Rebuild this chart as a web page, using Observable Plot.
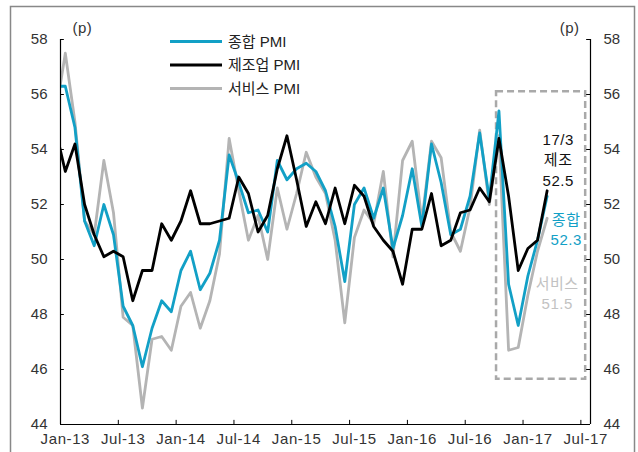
<!DOCTYPE html>
<html><head><meta charset="utf-8">
<script src="https://cdn.jsdelivr.net/npm/d3@7"></script>
<script src="https://cdn.jsdelivr.net/npm/@observablehq/plot@0.6"></script>
<style>
body{margin:0;background:#fff;}
#chart{width:638px;height:452px;}
g[aria-label="x-axis tick label"] text{letter-spacing:0.6px;}
g[aria-label="text"] text{letter-spacing:0.5px;}
</style></head><body><div id="chart"></div>
<script>
const months = ["2012-12",
 "2013-01","2013-02","2013-03","2013-04","2013-05","2013-06","2013-07","2013-08","2013-09","2013-10","2013-11","2013-12",
 "2014-01","2014-02","2014-03","2014-04","2014-05","2014-06","2014-07","2014-08","2014-09","2014-10","2014-11","2014-12",
 "2015-01","2015-02","2015-03","2015-04","2015-05","2015-06","2015-07","2015-08","2015-09","2015-10","2015-11","2015-12",
 "2016-01","2016-02","2016-03","2016-04","2016-05","2016-06","2016-07","2016-08","2016-09","2016-10","2016-11","2016-12",
 "2017-01","2017-02","2017-03"];
const composite = [56.3,
 56.3,54.8,51.4,50.5,52.0,50.9,48.3,47.6,46.1,47.5,48.5,48.1,
 49.6,50.3,48.9,49.5,50.7,53.8,52.8,51.7,51.8,51.0,53.6,52.9,
 53.3,53.5,53.2,52.5,51.2,49.2,52.0,52.6,51.5,52.6,50.4,51.6,
 53.3,51.2,54.2,52.8,50.9,51.1,52.3,54.6,52.2,55.4,49.1,47.6,
 49.4,50.7,52.3];
const manufacturing = [54.7,
 53.2,54.2,52.0,50.9,50.1,50.3,50.1,48.5,49.6,49.6,51.3,50.7,
 51.4,52.5,51.3,51.3,51.4,51.5,53.0,52.4,51.0,51.6,53.3,54.5,
 52.9,51.2,52.1,51.3,52.6,51.3,52.7,52.3,51.2,50.7,50.3,49.1,
 51.1,51.1,52.4,50.5,50.7,51.7,51.8,52.6,52.1,54.4,52.3,49.6,
 50.4,50.7,52.5];
const services = [55.3,
 57.5,55.0,51.4,50.9,53.6,51.7,47.9,47.6,44.6,47.1,47.2,46.7,
 48.3,48.8,47.5,48.5,50.2,54.4,52.5,50.7,51.6,50.0,52.6,51.1,
 52.4,53.9,53.0,52.4,50.7,47.7,50.8,51.8,51.3,53.2,50.1,53.6,
 54.3,51.4,54.3,53.7,51.0,50.3,51.9,54.7,52.0,54.5,46.7,46.8,
 48.7,50.3,51.5];
const xTickLabels = ["Jan-13","Jul-13","Jan-14","Jul-14","Jan-15","Jul-15","Jan-16","Jul-16","Jan-17","Jul-17"];
const yTicks = [44,46,48,50,52,54,56,58];
const seriesNames = ["종합 PMI","제조업 PMI","서비스 PMI"];
const seriesColors = ["#12a0c6","#000000","#b4b4b4"];
const shortNames = ["종합","제조","서비스"];
const labelColors = ["#12a0c6","#111111","#c2c2c2"];
const boxMonths = [45.25, 54.5];
const boxValues = [45.65, 56.1];
const unitLabel = "(p)";

const toT = s => { const [y, m] = s.split("-").map(Number); return (y - 2013) * 12 + (m - 1) + 0.5; };
const seriesValues = [composite, manufacturing, services];
const rows = seriesValues.map((vals, j) => months.map((m, i) => ({t: toT(m), v: vals[i], s: seriesNames[j]})));
const tickPos = xTickLabels.map((_, i) => i * 6);
const last = rows.map(r => r[r.length - 1]);
const lastMonth = months[months.length - 1];
const lastTag = lastMonth.slice(2, 4) + "/" + (+lastMonth.slice(5));

const font = "'Liberation Sans', Arial, 'Noto Sans CJK KR', sans-serif";
const plot = Plot.plot({
  width: 638, height: 452,
  marginLeft: 60, marginRight: 48, marginTop: 39, marginBottom: 28,
  style: {fontSize: "15px", fontFamily: font, color: "#333", background: "#fff"},
  x: {domain: [0, 55], axis: null},
  y: {domain: [44, 58], axis: null},
  marks: [
    Plot.rect([0], {x1: () => boxMonths[0], x2: () => boxMonths[1], y1: () => boxValues[0], y2: () => boxValues[1],
      fill: "none", stroke: "#a9a9a9", strokeWidth: 2.5, strokeDasharray: "7,4"}),
    Plot.lineY(rows[2], {x: "t", y: "v", stroke: seriesColors[2], strokeWidth: 2.8, clip: true}),
    Plot.lineY(rows[0], {x: "t", y: "v", stroke: seriesColors[0], strokeWidth: 2.8, clip: true}),
    Plot.lineY(rows[1], {x: "t", y: "v", stroke: seriesColors[1], strokeWidth: 2.8, clip: true}),
    Plot.ruleX([0, 55], {y1: 44, y2: 58, stroke: "#000", strokeWidth: 1.2}),
    Plot.ruleY([44], {x1: 0, x2: 55, stroke: "#000", strokeWidth: 1.2}),
    Plot.ruleY(yTicks, {x1: 0, x2: 0.4, stroke: "#000"}),
    Plot.ruleY(yTicks, {x1: 54.6, x2: 55, stroke: "#000"}),
    Plot.ruleX(tickPos, {y1: 44, y2: 44.15, stroke: "#000"}),
    Plot.axisY({anchor: "left", ticks: yTicks, tickSize: 0, tickPadding: 13, tickFormat: d => d, fill: "#333", fontSize: 15, label: null}),
    Plot.axisY({anchor: "right", ticks: yTicks, tickSize: 0, tickPadding: 13, tickFormat: d => d, fill: "#333", fontSize: 15, label: null}),
    Plot.axisX({anchor: "bottom", ticks: tickPos.map(t => t + 0.5), tickSize: 0, tickPadding: 9,
      tickFormat: (d, i) => xTickLabels[i], fill: "#333", fontSize: 15, label: null}),
    Plot.text([unitLabel], {frameAnchor: "top-left", text: d => d, dx: 12, dy: -17, fill: "#333", fontSize: 15}),
    Plot.text([unitLabel], {frameAnchor: "top-right", text: d => d, dx: -11, dy: -17, fill: "#333", fontSize: 15}),
    Plot.text([last[1]], {x: "t", y: "v", text: d => lastTag + "\n" + shortNames[1] + "\n" + d.v.toFixed(1),
      dx: 11, dy: -32, lineHeight: 1.38, fill: labelColors[1], fontSize: 15}),
    Plot.text([last[0]], {x: "t", y: "v", text: d => shortNames[0] + "\n" + d.v.toFixed(1),
      dx: 19, dy: 32, lineHeight: 1.35, fill: labelColors[0], fontSize: 15}),
    Plot.text([last[2]], {x: "t", y: "v", text: d => shortNames[2] + "\n" + d.v.toFixed(1),
      dx: 10, dy: 74, lineHeight: 1.35, fill: labelColors[2], fontSize: 15})
  ]
});
document.getElementById("chart").appendChild(plot);

const svg = d3.select(plot);
// outer frame
svg.append("rect").attr("x", 10.5).attr("y", 6.5).attr("width", 624).attr("height", 460)
  .attr("fill", "none").attr("stroke", "#888").attr("stroke-width", 1.5);
// legend
const lg = svg.append("g").attr("font-family", font).attr("font-size", 15).attr("text-anchor", "start");
seriesNames.forEach((name, i) => {
  const y = 41.5 + i * 23.5;
  lg.append("line").attr("x1", 170).attr("x2", 222).attr("y1", y).attr("y2", y)
    .attr("stroke", seriesColors[i]).attr("stroke-width", 3);
  lg.append("text").attr("x", 228).attr("y", y).attr("dy", "0.35em").attr("fill", "#222").text(name);
});
</script></body></html>
